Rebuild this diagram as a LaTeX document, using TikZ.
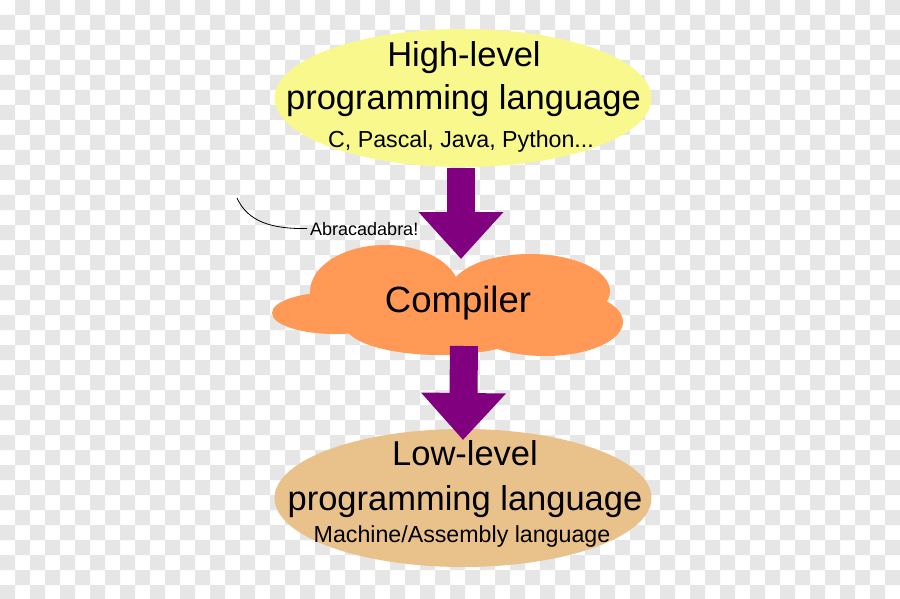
\documentclass[tikz,border=0pt]{standalone}
\usepackage{fontspec}
\setmainfont{Liberation Sans}
\usetikzlibrary{shapes.geometric,arrows.meta}
\definecolor{checkgray}{HTML}{E6E6E6}
\definecolor{hlcol}{HTML}{F8F88C}
\definecolor{cloudcol}{HTML}{FF9955}
\definecolor{llcol}{HTML}{E9C28B}
\definecolor{arrowcol}{HTML}{800080}
\tikzset{
  bigtext/.style={font=\fontsize{34.5}{40}\selectfont, inner sep=0pt, anchor=base},
  smalltext/.style={font=\fontsize{23.2}{27}\selectfont, inner sep=0pt, anchor=base},
  blob/.style={ellipse, inner sep=0pt, minimum width=377pt, minimum height=138pt},
  bigarrow/.style={arrowcol, line width=28pt, -{Triangle[length=47pt,width=82pt]}},
}
\begin{document}
\begin{tikzpicture}[x=1pt,y=-1pt]
\useasboundingbox (0,0) rectangle (900,599);
\clip (0,0) rectangle (900,599);
% transparency checkerboard
\fill[white] (0,0) rectangle (900,600);
\fill[checkgray]
  \foreach \j in {0,2,...,38}{ \foreach \i in {1,3,...,59}{ (\i*15,\j*15) rectangle ++(15,15) } }
  \foreach \j in {1,3,...,39}{ \foreach \i in {0,2,...,58}{ (\i*15,\j*15) rectangle ++(15,15) } };

% compiler cloud
\fill[cloudcol]
  (335,313) ellipse [x radius=63pt, y radius=21pt]
  (385,292) ellipse [x radius=75pt, y radius=47pt]
  (530,291) ellipse [x radius=80pt, y radius=37pt]
  (545,322) ellipse [x radius=78pt, y radius=34pt]
  (440,325) ellipse [x radius=95pt, y radius=30pt];
\node[font=\fontsize{36.5}{42}\selectfont, inner sep=0pt, anchor=base] (cl) at (458,312) {Compiler};

% ellipses
\node[blob, fill=llcol] (ll) at (463,498) {};
\node[bigtext] (llt1) at (465,465) {Low-level};
\node[bigtext] (llt2) at (465,510) {programming language};
\node[smalltext] (llt3) at (462,542) {Machine/Assembly language};

% arrows
\coordinate (a1s) at (461,168);
\coordinate (a1e) at (461,259);
\coordinate (a2s) at (464,346);
\coordinate (a2e) at (463,440);
\draw[bigarrow] (a1s) -- (a1e);
\draw[bigarrow] (a2s) -- (a2e);

\node[blob, fill=hlcol] (hl) at (463,98) {};
\node[bigtext] (hlt1) at (464,67) {High-level};
\node[bigtext] (hlt2) at (463.5,110) {programming language};
\node[smalltext] (hlt3) at (461,148) {C, Pascal, Java, Python...};

% Abracadabra
\node[font=\fontsize{18}{22}\selectfont, inner sep=3pt, anchor=base west] (abr) at (307,235) {Abracadabra!};
\coordinate (abrs) at (237,198);
\draw[line width=0.8pt] (abrs) .. controls (248,222) and (272,229) .. (abr.west);
\end{tikzpicture}
\end{document}
